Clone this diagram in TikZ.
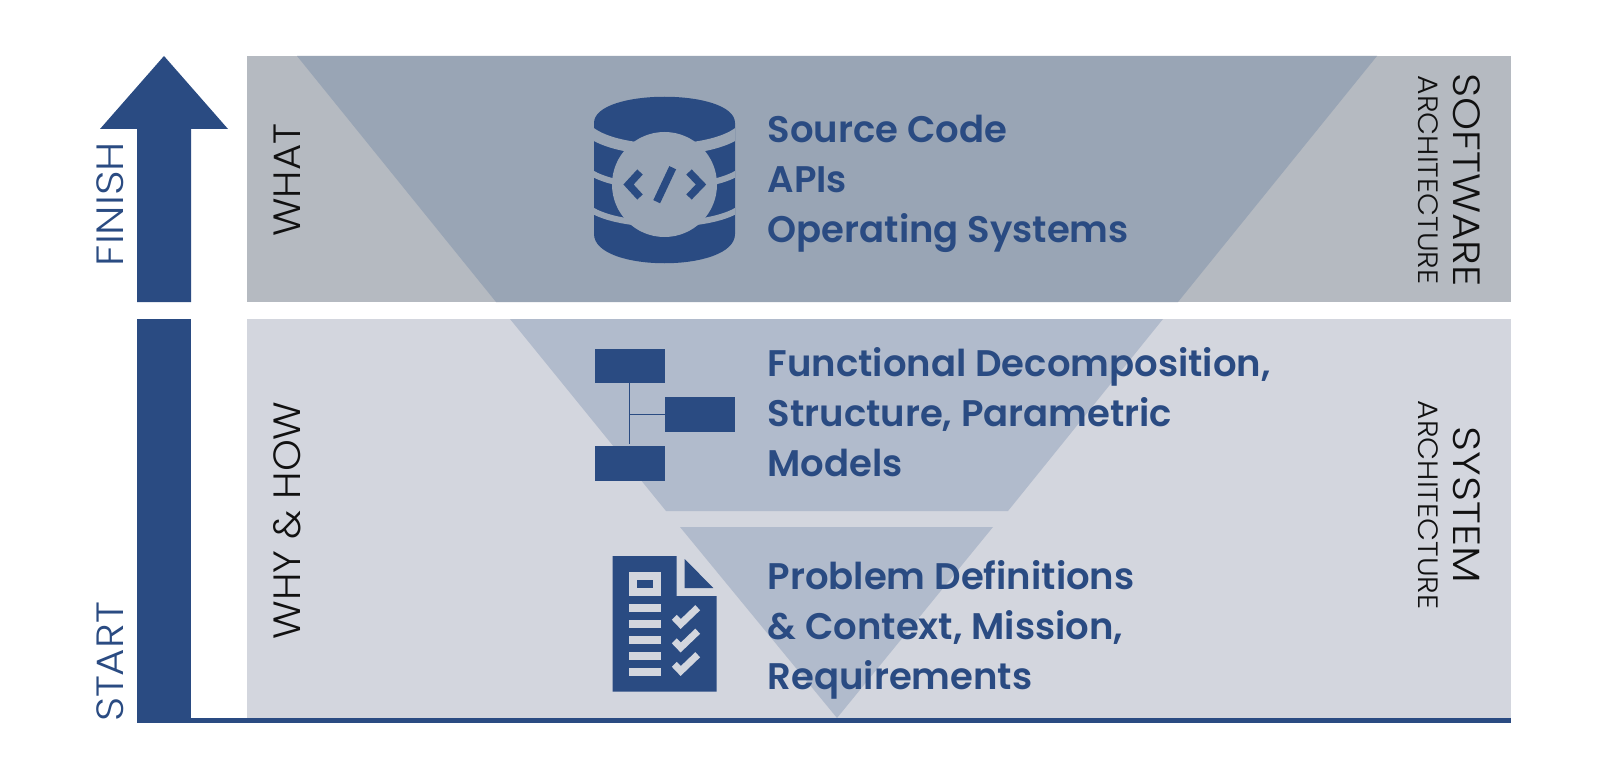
\documentclass[tikz,border=0pt]{standalone}
\usepackage{graphicx}
\usepackage{fontspec}
\setmainfont{Poppins}
\newfontfamily\boldf{Poppins SemiBold}
\newfontfamily\lightf{Poppins Light}
\definecolor{navy}{HTML}{2A4B82}
\definecolor{panelA}{HTML}{B5BAC1}
\definecolor{panelB}{HTML}{D3D6DE}
\definecolor{trapA}{HTML}{99A5B5}
\definecolor{trapB}{HTML}{B1BBCC}
\definecolor{inkK}{HTML}{111111}
\newcommand{\wide}[2]{\scalebox{#1}[1]{#2}}
\tikzset{
  bigtext/.style={inner sep=0pt,anchor=west,align=left,text=navy,font=\boldf\fontsize{37}{50}\selectfont},
  sidelab/.style={inner sep=0pt,anchor=center,font=\lightf\fontsize{38}{38}\selectfont},
  smalllab/.style={inner sep=0pt,anchor=center,font=\lightf\fontsize{28}{28}\selectfont},
  hbox/.style={fill=navy,draw=none,inner sep=0pt,minimum width=70pt,minimum height=34.5pt},
  link/.style={draw=navy,line width=1.5pt},
  chev/.style={draw=navy,line width=7.5pt,miter limit=10},
  chk/.style={draw=panelB,line width=7pt,miter limit=10}
}
\begin{document}
\begin{tikzpicture}[x=1pt,y=-1pt]
\useasboundingbox (0,0) rectangle (1600,778);
\fill[white] (0,0) rectangle (1600,778);
% panels
\fill[panelA] (247,56) rectangle (1511,302);
\fill[panelB] (247,319) rectangle (1511,718);
\fill[trapA] (297,56) -- (1377,56) -- (1178,302) -- (496,302) -- cycle;
\fill[trapB] (510,319) -- (1163,319) -- (1008,511) -- (666,511) -- cycle;
\fill[trapB] (680,527) -- (993,527) -- (837,718) -- cycle;
% arrow and axis
\fill[navy] (164,56) -- (228,129) -- (191,129) -- (191,302) -- (137,302) -- (137,129) -- (100,129) -- cycle;
\fill[navy] (137,319) rectangle (191,723);
\fill[navy] (137,718) rectangle (1511,723);
% side labels
\node[sidelab,rotate=90,text=navy] (finish) at (110,204) {\wide{1.13}{FINISH}};
\node[sidelab,rotate=90,text=navy] (start) at (110,662) {\wide{1.107}{START}};
\node[sidelab,rotate=90,text=inkK] (what) at (287,180) {\wide{1.06}{WHAT}};
\node[sidelab,rotate=90,text=inkK] (whyhow) at (287,520.5) {\wide{1.065}{WHY \& HOW}};
\node[sidelab,rotate=-90,text=inkK] (software) at (1467,180) {\wide{1.106}{SOFTWARE}};
\node[smalllab,rotate=-90,text=inkK] (archA) at (1428,180) {\wide{1.068}{ARCHITECTURE}};
\node[sidelab,rotate=-90,text=inkK] (system) at (1467,505) {\wide{1.15}{SYSTEM}};
\node[smalllab,rotate=-90,text=inkK] (archB) at (1428,505) {\wide{1.068}{ARCHITECTURE}};
% main text
\node[bigtext] (t1) at (767.5,184) {Source Code\\APIs\\Operating Systems};
\node[bigtext] (t2) at (767.5,412.5) {Functional Decomposition,\\Structure, Parametric\\Models};
\node[bigtext] (t3) at (767.5,630) {Problem Definitions\\\& Context, Mission,\\Requirements};
% database icon
\fill[navy] (594,123) .. controls (594,88) and (735,88) .. (735,123) -- (735,234) .. controls (735,273) and (594,273) .. (594,234) -- cycle;
\begin{scope}
\clip (594,90) rectangle (735,270);
\draw[trapA,line width=11pt] (590,132) .. controls (620,155) and (709,155) .. (739,132);
\draw[trapA,line width=6pt] (590,172) .. controls (620,192) and (709,192) .. (739,172);
\draw[trapA,line width=6pt] (590,209) .. controls (620,229) and (709,229) .. (739,209);
\end{scope}
\fill[trapA] (664.5,184.5) circle[radius=52.5];
\draw[chev] (640,172) -- (628.5,184.5) -- (640,197);
\draw[chev] (689,172) -- (701,184.5) -- (689,197);
\draw[navy,line width=7.5pt] (672.7,167.7) -- (656.7,201.7);
% hierarchy icon
\node[hbox] (boxa) at (629.7,366) {};
\node[hbox] (boxb) at (700,414.5) {};
\node[hbox] (boxc) at (629.7,463.5) {};
\coordinate (trunkend) at (629.7,444);
\coordinate (branch) at (629.7,414.5);
\draw[link] (boxa.south) -- (trunkend);
\draw[link] (branch) -- (boxb.west);
% document icon
\fill[navy] (612.7,556) -- (676.7,556) -- (676.7,596) -- (716.7,596) -- (716.7,691.7) -- (612.7,691.7) -- cycle;
\fill[navy] (684.7,559) -- (684.7,588) -- (713.3,588) -- cycle;
\fill[panelB] (628.7,572) rectangle (660.7,595.7);
\fill[navy] (636.7,580) rectangle (652.7,588);
\foreach \yy in {604,620,636,652,668} {
  \fill[panelB] (628.7,\yy) rectangle (660.7,\yy+7.8);
}
\foreach \dd in {0,23.5,47} {
  \draw[chk] (674.3,617.3+\dd) -- (680.7,624+\dd) -- (697.7,607.7+\dd);
}
\end{tikzpicture}
\end{document}
